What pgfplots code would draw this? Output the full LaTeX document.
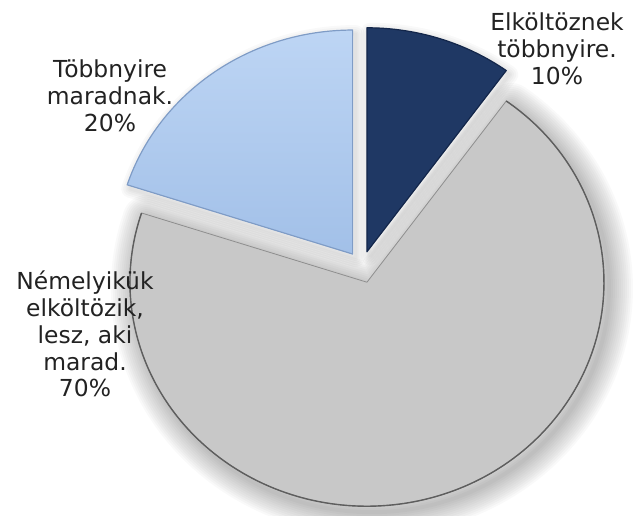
\documentclass[border=0pt]{standalone}
\usepackage{pgfplots}
\pgfplotsset{compat=1.18}
\usepackage{fontspec}
\setmainfont{DejaVu Sans}
\definecolor{navy}{HTML}{1F3864}
\definecolor{navyedge}{HTML}{13264A}
\definecolor{lbtop}{HTML}{BDD5F4}
\definecolor{lbbot}{HTML}{A2C0E8}
\definecolor{lbedge}{HTML}{7F9CC6}
\definecolor{greyfill}{HTML}{C8C8C8}
\definecolor{greyedge}{HTML}{5E5E5E}
\definecolor{txt}{HTML}{222222}
% slice path: start angle, end angle, centre x, centre y
\newcommand\slicepath[4]{(axis cs:#3,#4) -- (axis cs:{#3+\rx*cos(#1)},{#4+\ry*sin(#1)}) arc[start angle=#1,end angle=#2,x radius=\rx bp,y radius=\ry bp] -- cycle}
\begin{document}
\begin{tikzpicture}
% values (percent)
\def\vA{10}% Elkoltoznek tobbnyire
\def\vB{70}% Nemelyikuk elkoltozik
\def\vC{20}% Tobbnyire maradnak
\def\rx{237}\def\ry{224}
\def\cx{362}\def\cy{249}\def\ex{16}
\pgfmathsetmacro\aA{90}
\pgfmathsetmacro\aB{90-3.6*\vA}
\pgfmathsetmacro\aC{\aB-3.6*\vB}
\pgfmathsetmacro\aD{\aC-3.6*\vC}
\pgfmathsetmacro\xA{\cx+\ex*cos((\aA+\aB)/2)}
\pgfmathsetmacro\yA{\cy+\ex*sin((\aA+\aB)/2)}
\pgfmathsetmacro\xB{\cx+\ex*cos((\aB+\aC)/2)}
\pgfmathsetmacro\yB{\cy+\ex*sin((\aB+\aC)/2)}
\pgfmathsetmacro\xC{\cx+\ex*cos((\aC+\aD)/2)}
\pgfmathsetmacro\yC{\cy+\ex*sin((\aC+\aD)/2)}
\pgfmathsetmacro\xBs{\xB+5}\pgfmathsetmacro\yBs{\yB-6}
\pgfmathsetmacro\xCs{\xC+3}\pgfmathsetmacro\yCs{\yC-4}
\pgfmathsetmacro\xAs{\xA+3}\pgfmathsetmacro\yAs{\yA-4}
\begin{axis}[scale only axis, width=633bp, height=516bp,
  xmin=0, xmax=633, ymin=0, ymax=516, hide axis, clip=true]
\path (axis cs:0,0) rectangle (axis cs:633,516);
% grey slice shadow
\pgfplotsinvokeforeach{48,44,40,36,32,28,24,20,16,12,8,4}{
  \draw[black, opacity=0.022, line width=#1bp, line join=round] \slicepath{\aB}{\aC}{\xBs}{\yBs};
}
\fill[greyfill] \slicepath{\aB}{\aC}{\xB}{\yB};
\draw[greyedge!55!greyfill, line width=0.8bp, line join=round] \slicepath{\aB}{\aC}{\xB}{\yB};
\draw[greyedge, line width=1.4bp] (axis cs:{\xB+\rx*cos(\aB)},{\yB+\ry*sin(\aB)}) arc[start angle=\aB,end angle=\aC,x radius=\rx bp,y radius=\ry bp];
% light blue slice
\pgfplotsinvokeforeach{18,14,10,6,3}{
  \draw[black, opacity=0.025, line width=#1bp, line join=round] \slicepath{\aC}{\aD}{\xCs}{\yCs};
}
\shade[top color=lbtop, bottom color=lbbot] \slicepath{\aC}{\aD}{\xC}{\yC};
\draw[lbedge, line width=1.2bp, line join=round] \slicepath{\aC}{\aD}{\xC}{\yC};
% navy slice
\pgfplotsinvokeforeach{18,14,10,6,3}{
  \draw[black, opacity=0.025, line width=#1bp, line join=round] \slicepath{\aA}{\aB}{\xAs}{\yAs};
}
\fill[navy] \slicepath{\aA}{\aB}{\xA}{\yA};
\draw[navyedge, line width=1.2bp, line join=round] \slicepath{\aA}{\aB}{\xA}{\yA};
% labels
\node[align=center, text=txt, font=\fontsize{23.5}{27}\selectfont] at (axis cs:557,467) {Elköltöznek\\többnyire.\\\vA\%};
\node[align=center, text=txt, font=\fontsize{23.5}{27}\selectfont] at (axis cs:110,420) {Többnyire\\maradnak.\\\vC\%};
\node[align=center, text=txt, font=\fontsize{23.5}{27}\selectfont] at (axis cs:85,182) {Némelyikük\\elköltözik,\\lesz, aki\\marad.\\\vB\%};
\end{axis}
\end{tikzpicture}
\end{document}
